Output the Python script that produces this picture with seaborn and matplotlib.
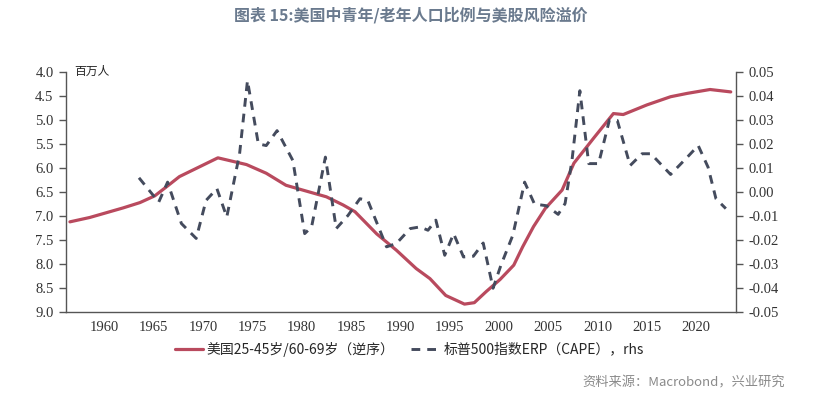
import numpy as np
import pandas as pd
import matplotlib
matplotlib.use('Agg')
import matplotlib.pyplot as plt
import seaborn as sns

# 美国25-45岁/60-69岁 人口比例（左轴，逆序）
pop_years = [1956.5, 1958.5, 1960.2, 1961.9, 1963.6, 1965.1, 1966.3, 1967.6, 1969.7, 1971.5,
             1974.4, 1976.4, 1978.4, 1980.1, 1982.5, 1984.2, 1985.4, 1987.6, 1989.6, 1991.6,
             1993.0, 1994.6, 1996.5, 1997.5, 1998.7, 2000.1, 2001.5, 2002.4, 2003.5, 2004.7,
             2006.4, 2007.6, 2009.6, 2011.6, 2012.6, 2015.0, 2017.4, 2019.1, 2021.4, 2023.5]
pop_ratio = [7.12, 7.03, 6.93, 6.83, 6.72, 6.58, 6.39, 6.18, 5.97, 5.79,
             5.93, 6.11, 6.36, 6.46, 6.60, 6.77, 6.91, 7.37, 7.71, 8.09,
             8.30, 8.65, 8.83, 8.80, 8.57, 8.32, 8.02, 7.64, 7.22, 6.84,
             6.46, 5.90, 5.38, 4.87, 4.89, 4.69, 4.52, 4.45, 4.37, 4.42]

# 标普500 ERP (CAPE)（右轴）
erp_years = [1963.5, 1965.5, 1966.4, 1967.8, 1969.3, 1970.3, 1971.4, 1972.4, 1973.7, 1974.5,
             1975.6, 1976.4, 1977.5, 1979.1, 1980.3, 1981.0, 1982.4, 1983.5, 1984.7, 1985.9,
             1986.7, 1988.6, 1989.6, 1991.0, 1992.0, 1992.8, 1993.6, 1994.5, 1995.4, 1996.4,
             1997.4, 1998.4, 1999.4, 2000.2, 2001.4, 2002.6, 2003.6, 2004.8, 2006.0, 2006.7,
             2007.4, 2008.2, 2009.1, 2010.1, 2011.2, 2012.0, 2013.3, 2014.5, 2015.4, 2017.4,
             2019.1, 2020.2, 2021.2, 2022.0, 2023.0]
erp_vals = [0.0059, -0.0042, 0.0041, -0.0131, -0.0193, -0.0035, 0.0014, -0.0104, 0.0159, 0.0463,
            0.0200, 0.0193, 0.0255, 0.0131, -0.0173, -0.0145, 0.0145, -0.0152, -0.0097, -0.0028,
            -0.0035, -0.0228, -0.0214, -0.0152, -0.0145, -0.0159, -0.0117, -0.0263, -0.0173, -0.0270,
            -0.0267, -0.0212, -0.0400, -0.0304, -0.0180, 0.0041, -0.0050, -0.0057, -0.0093, -0.0048,
            0.0131, 0.0421, 0.0118, 0.0118, 0.0300, 0.0297, 0.0110, 0.0159, 0.0159, 0.0073,
            0.0145, 0.0193, 0.0103, -0.0028, -0.0069]

x_ticks = list(range(1960, 2021, 5))
left_ticks = [4.0, 4.5, 5.0, 5.5, 6.0, 6.5, 7.0, 7.5, 8.0, 8.5, 9.0]
right_ticks = [0.05, 0.04, 0.03, 0.02, 0.01, 0.00, -0.01, -0.02, -0.03, -0.04, -0.05]

red = '#b94a5e'
navy = '#444b5d'

sns.set_theme(style='ticks')
plt.rcParams['font.family'] = ['Noto Sans CJK SC', 'DejaVu Sans']

fig = plt.figure(figsize=(8.22, 3.99), dpi=100)
ax = fig.add_axes([0.0803, 0.2173, 0.8147, 0.603])
ax2 = ax.twinx()

df_pop = pd.DataFrame({'year': pop_years, 'ratio': pop_ratio})
df_erp = pd.DataFrame({'year': erp_years, 'erp': erp_vals})

sns.lineplot(data=df_pop, x='year', y='ratio', ax=ax, color=red, linewidth=2.3,
             label='美国25-45岁/60-69岁（逆序）', legend=False)
sns.lineplot(data=df_erp, x='year', y='erp', ax=ax2, color=navy, linewidth=2.1,
             linestyle=(0, (3.0, 2.4)), label='标普500指数ERP（CAPE），rhs', legend=False)

ax.set_xlim(1956.1, 2024.0)
ax.set_ylim(9.0, 4.0)
ax2.set_ylim(-0.05, 0.05)
ax.set_xticks(x_ticks)
ax.set_yticks(left_ticks)
ax.set_yticklabels([f'{v:.1f}' for v in left_ticks])
ax2.set_yticks(right_ticks)
ax2.set_yticklabels([f'{v:.2f}' for v in right_ticks])
ax.set_xlabel('')
ax.set_ylabel('')
ax2.set_ylabel('')

for lab in ax.get_xticklabels() + ax.get_yticklabels() + ax2.get_yticklabels():
    lab.set_fontfamily('Liberation Serif')
    lab.set_fontsize(10.5)
    lab.set_color('#333333')

spine_c = '#555555'
for a in (ax, ax2):
    a.spines['top'].set_visible(False)
    for s in ('left', 'right', 'bottom'):
        a.spines[s].set_color(spine_c)
        a.spines[s].set_linewidth(1.0)
ax.spines['right'].set_visible(False)
ax2.spines['left'].set_visible(False)
ax2.spines['bottom'].set_visible(False)
ax.tick_params(axis='x', length=0, pad=6)
ax.tick_params(axis='y', length=5, width=1.0, color=spine_c, pad=4)
ax2.tick_params(axis='y', length=5, width=1.0, color=spine_c, pad=4)

ax.text(0.013, 1.0, '百万人', transform=ax.transAxes, fontsize=8.5, color='#222222',
        va='center', ha='left')

fig.text(0.5, 0.962, '图表 15:美国中青年/老年人口比例与美股风险溢价', ha='center', va='center',
         fontsize=11.5, fontweight='bold', color='#6a7a8e')

h1, l1 = ax.get_legend_handles_labels()
h2, l2 = ax2.get_legend_handles_labels()
fig.legend(h1 + h2, l1 + l2, loc='center', bbox_to_anchor=(0.498, 0.125), ncol=2,
           frameon=False, fontsize=10, handlelength=2.0, columnspacing=1.2, handletextpad=0.3)

fig.text(0.955, 0.04, '资料来源：Macrobond，兴业研究', ha='right', va='center',
         fontsize=9.5, color='#8a8a8a')

fig.savefig('out.png', dpi=100)
